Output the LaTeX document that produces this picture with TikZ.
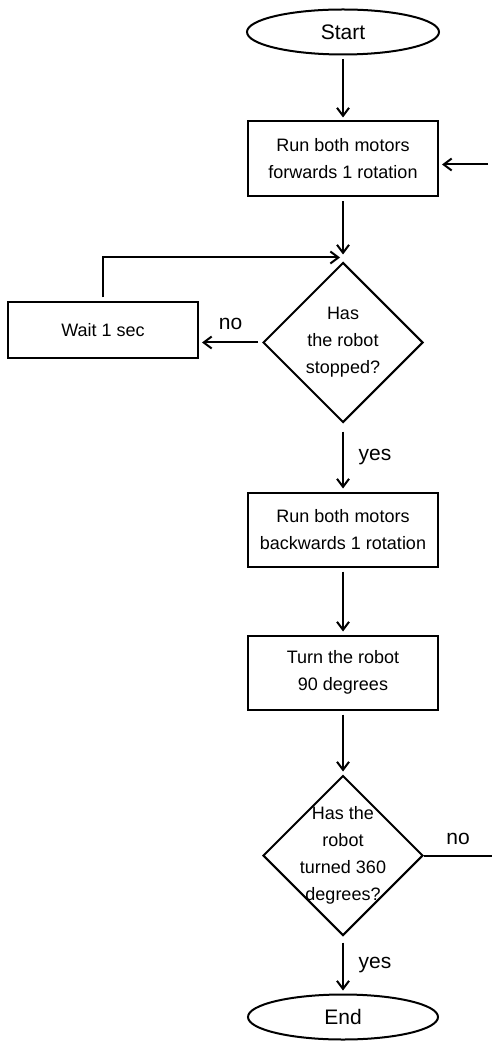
\documentclass[tikz,border=0pt]{standalone}
\usepackage{fontspec}
\setmainfont{Liberation Sans}
\usetikzlibrary{shapes.geometric, arrows.meta, positioning, calc}

\begin{document}
\begin{tikzpicture}[
        font=\fontsize{9}{13.5}\selectfont,
        >={Straight Barb[length=4pt,width=6pt]},
        line width=1pt,
        base/.style={draw, align=center},
        terminal/.style={base, ellipse, minimum width=96pt, minimum height=22.5pt, font=\fontsize{10.5}{13.5}\selectfont},
        process/.style={base, rectangle, minimum width=95pt, minimum height=37pt},
        decision/.style={base, diamond, aspect=1, inner sep=0pt, minimum width=80pt, minimum height=80pt},
        arrow/.style={->, shorten <=2pt, shorten >=1.5pt},
        answer/.style={font=\fontsize{10.5}{13.5}\selectfont}
    ]

    \useasboundingbox (0,0) rectangle (246pt,-521pt);
    \coordinate (rightedge) at (246pt,0);

    % Nodes
    \node[terminal] (start) at (171.5pt,-16pt) {Start};
    \node[process, minimum height=37.5pt, below=32.5pt of start] (forwards) {Run both motors\\forwards 1 rotation};
    \node[decision, below=32pt of forwards] (stopped) {Has\\the robot\\stopped?};
    \node[process, minimum height=28pt, left=31.5pt of stopped, yshift=6pt] (wait) {Wait 1 sec};
    \node[process, below=34pt of stopped] (backwards) {Run both motors\\backwards 1 rotation};
    \node[process, below=33.5pt of backwards] (turn) {Turn the robot\\90 degrees};
    \node[decision, inner sep=-4pt, below=32pt of turn] (turned) {Has the\\robot\\turned 360\\degrees?};
    \node[terminal, minimum width=95pt, below=28.5pt of turned] (end) {End};
    \coordinate[above=2pt of stopped.north] (merge);

    % Arrows
    \draw[arrow] (start) -- (forwards);
    \draw[arrow] ([yshift=-2.75pt]forwards.east -| rightedge) -- ([yshift=-2.75pt]forwards.east);
    \draw[arrow] (forwards) -- (merge);
    \draw[arrow] (wait.north) |- (merge);
    \draw[arrow] (stopped.west) -- (stopped.west -| wait.east) node[answer, midway, above=2.5pt] {no};
    \draw[arrow, shorten <=4pt] (stopped) -- (backwards) node[answer, midway, right=4pt] {yes};
    \draw[arrow] (backwards) -- (turn);
    \draw[arrow] (turn) -- (turned);
    \draw (turned.east) -- (turned.east -| rightedge) node[answer, midway, above=1.5pt] {no};
    \draw[arrow, shorten <=3pt] (turned) -- (end) node[answer, midway, right=4pt] {yes};

\end{tikzpicture}
\end{document}
